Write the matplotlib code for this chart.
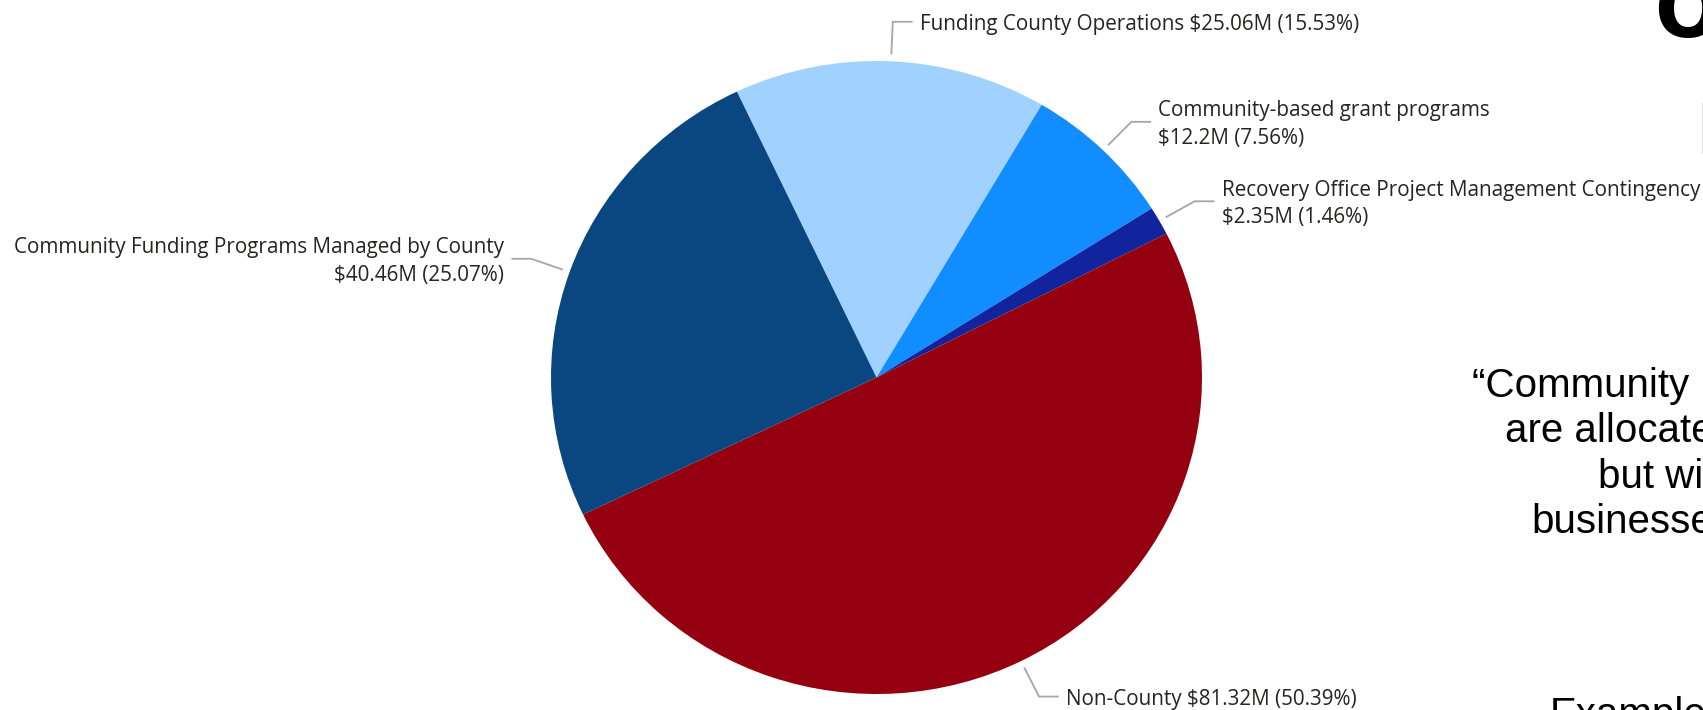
import numpy as np
import matplotlib
matplotlib.use("Agg")
from matplotlib import pyplot as plt

# slices in clockwise order, starting from the upper left
labels = ["Funding County Operations", "Community-based grant programs",
          "Recovery Office Project Management Contingency", "Non-County",
          "Community Funding Programs Managed by County"]
values = [25.06, 12.2, 2.35, 81.32, 40.46]  # $M
colors = ["#A0D1FF", "#118DFF", "#12239E", "#940010", "#0A4780"]
two_line = [False, True, True, False, True]

# text of the slide behind the chart (cut off at the right edge)
side_lines = ["\u201cCommunity F", "are allocated", "but wi",
              "businesses", "Example"]
side_pos = [(1471.7, 397.3), (1505, 441.7), (1597.7, 488.3),
            (1531.7, 533.3), (1550, 726)]

W, H = 1703, 710
fig = plt.figure(figsize=(W / 100, H / 100), dpi=100)
fig.patch.set_facecolor("white")

# axes box = bounding box of the pie (pixels: left 551, right 1202, top 61, bottom 694)
ax = fig.add_axes([551 / W, (H - 694) / H, 651 / W, 633 / H])
wedges, _ = ax.pie(values, colors=colors, startangle=115.4, counterclock=False,
                   wedgeprops=dict(linewidth=0))
ax.set_aspect("auto")
ax.set_xlim(-1, 1)
ax.set_ylim(-1, 1)
ax.axis("off")

total = sum(values)
for w, name, v, two in zip(wedges, labels, values, two_line):
    mid = np.deg2rad((w.theta1 + w.theta2) / 2)
    c, s = np.cos(mid), np.sin(mid)
    side = 1 if c >= 0 else -1
    x0, y0 = 1.025 * c, 1.025 * s
    x1, y1 = 1.125 * c, 1.125 * s
    x2 = x1 + side * 0.058
    ax.plot([x0, x1, x2], [y0, y1, y1], color="#A6A6A6", lw=1.3,
            clip_on=False, solid_joinstyle="miter")
    value_txt = f"${v:g}M ({v / total * 100:.2f}%)"
    txt = f"{name}\n{value_txt}" if two else f"{name} {value_txt}"
    ax.text(x2 + side * 0.025, y1 - 0.009, txt, ha="left" if side > 0 else "right",
            va="center", multialignment="left" if side > 0 else "right",
            fontsize=14.9, family="Open Sans", color="#252423",
            linespacing=1.42, clip_on=False)

for line, (px, py) in zip(side_lines, side_pos):
    fig.text(px / W, 1 - py / H, line, fontsize=29, family="Liberation Sans",
             color="black", va="baseline", ha="left")

# pieces of the slide title
fig.text(1654 / W, 1 - 37 / H, "O", fontsize=56, family="DejaVu Sans",
         weight="bold", color="black", va="baseline", ha="left")
fig.text(1695.5 / W, 1 - 154 / H, "I", fontsize=54, family="Liberation Sans",
         color="black", va="baseline", ha="left")

fig.savefig("out.png", dpi=100, facecolor="white")
